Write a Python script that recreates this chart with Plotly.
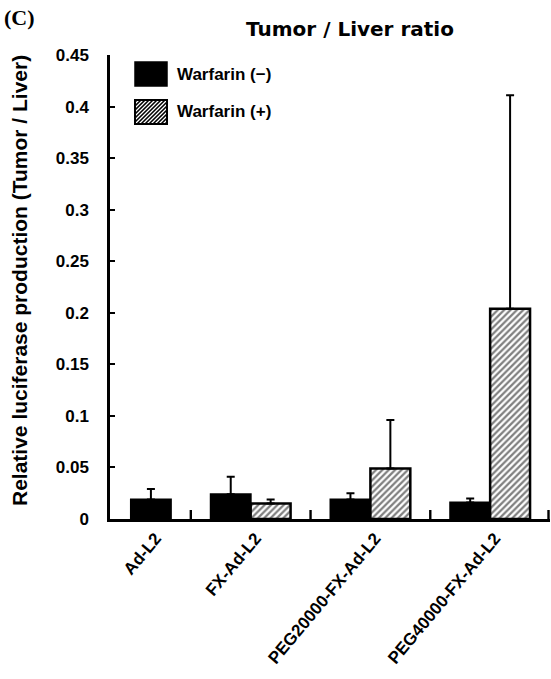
import plotly.graph_objects as go

# ---------------- data ----------------
categories = ["Ad-L2", "FX-Ad-L2", "PEG20000-FX-Ad-L2", "PEG40000-FX-Ad-L2"]
series_names = ["Warfarin (\u2212)", "Warfarin (+)"]
warfarin_minus = [0.019, 0.024, 0.019, 0.016]
warfarin_minus_err = [0.010, 0.017, 0.006, 0.004]
warfarin_plus = [None, 0.015, 0.049, 0.204]
warfarin_plus_err = [None, 0.004, 0.047, 0.207]
y_ticks = [0, 0.05, 0.1, 0.15, 0.2, 0.25, 0.3, 0.35, 0.4, 0.45]

# ---------------- layout geometry (pixels) ----------------
FIG_W, FIG_H = 551, 679
L, R, T, B = 110, 1, 55, 160
PW = FIG_W - L - R
PH = FIG_H - T - B

def pxx(px):
    return (px - L) / PW

def pxy(py):
    return (FIG_H - B - py) / PH

idx = list(range(len(categories)))
bw = 1 / 3
minus_offsets = [0] + [-bw] * (len(categories) - 1)
plus_offsets = [0] * len(categories)
label_pos = [bw / 2 + 0.04] + [i + 0.04 for i in idx[1:]]
boundary_pos = [i + 0.5 for i in idx]
X_RANGE = [-0.175, 3.5]

AX_FONT = dict(family="Liberation Sans, Arial, sans-serif", color="black", weight="bold")

fig = go.Figure()
fig.add_trace(go.Bar(
    x=idx, y=warfarin_minus, name=series_names[0], width=bw, offset=minus_offsets,
    marker=dict(color="black", line=dict(color="black", width=2)),
    error_y=dict(type="data", array=warfarin_minus_err, arrayminus=[0] * 4, symmetric=False,
                 color="black", thickness=2, width=4),
    showlegend=False,
))
fig.add_trace(go.Bar(
    x=idx, y=warfarin_plus, name=series_names[1], width=bw, offset=plus_offsets,
    marker=dict(color="white", line=dict(color="black", width=2.5),
                pattern=dict(shape="/", fgcolor="black", bgcolor="white", size=4.5, solidity=0.5)),
    error_y=dict(type="data", array=warfarin_plus_err, arrayminus=[0] * 4, symmetric=False,
                 color="black", thickness=2, width=4),
    showlegend=False,
))

shapes = []
for bp in boundary_pos:
    xp = L + (bp - X_RANGE[0]) / (X_RANGE[1] - X_RANGE[0]) * PW
    xp = min(xp, FIG_W - R - 1.5)
    shapes.append(dict(type="rect", xref="paper", yref="paper",
                       x0=pxx(xp - 1.2), x1=pxx(xp + 1.2), y0=pxy(FIG_H - B), y1=pxy(FIG_H - B - 9),
                       fillcolor="black", line=dict(width=0), layer="above"))

bx0, bx1 = 135, 167
rows = [(62, 86), (100, 124)]
shapes.append(dict(type="rect", xref="paper", yref="paper",
                   x0=pxx(bx0), x1=pxx(bx1), y0=pxy(rows[0][1]), y1=pxy(rows[0][0]),
                   fillcolor="black", line=dict(color="black", width=1.5)))
hy0, hy1 = rows[1]
shapes.append(dict(type="rect", xref="paper", yref="paper",
                   x0=pxx(bx0), x1=pxx(bx1), y0=pxy(hy1), y1=pxy(hy0),
                   fillcolor="white", line=dict(color="black", width=2)))
path = ""
c = bx0 + hy0 + 2
while c < bx1 + hy1:
    xa = max(bx0, c - hy1)
    xb = min(bx1, c - hy0)
    if xb > xa:
        path += f"M{pxx(xa)},{pxy(c - xa)}L{pxx(xb)},{pxy(c - xb)}"
    c += 4.0
shapes.append(dict(type="path", xref="paper", yref="paper", path=path,
                   line=dict(color="black", width=1.6)))

annotations = []
for name, (ry0, ry1) in zip(series_names, rows):
    annotations.append(dict(text=name, xref="paper", yref="paper", x=pxx(175), y=pxy((ry0 + ry1) / 2),
                            xanchor="left", yanchor="middle", showarrow=False,
                            font=dict(AX_FONT, size=17)))
annotations.append(dict(text="Relative luciferase production (Tumor / Liver)", xref="paper", yref="paper",
                        x=pxx(19), y=pxy(281), xanchor="center", yanchor="middle", textangle=-90,
                        showarrow=False, font=dict(AX_FONT, size=21)))
annotations.append(dict(text="(C)", xref="paper", yref="paper", x=pxx(2), y=pxy(17),
                        xanchor="left", yanchor="middle", showarrow=False,
                        font=dict(family="Liberation Serif, Times New Roman, serif", size=22,
                                  color="black", weight="bold")))

fig.update_layout(
    width=FIG_W, height=FIG_H,
    margin=dict(l=L, r=R, t=T, b=B, pad=0),
    paper_bgcolor="white", plot_bgcolor="white",
    barmode="overlay",
    title=dict(text="Tumor / Liver ratio", x=pxx(350), xref="paper", xanchor="center",
               y=1 - 29 / FIG_H, yref="container", yanchor="middle",
               font=dict(family="DejaVu Sans, sans-serif", size=20, color="black", weight="bold")),
    shapes=shapes, annotations=annotations,
    xaxis=dict(range=X_RANGE, showgrid=False, zeroline=False,
               showline=True, linecolor="black", linewidth=2.5,
               tickmode="array", tickvals=label_pos, ticktext=categories,
               ticks="", ticklabelstandoff=0,
               tickangle=-50, tickfont=dict(AX_FONT, size=17)),
    yaxis=dict(range=[0, 0.45], showgrid=False, zeroline=False,
               showline=True, linecolor="black", linewidth=2.5,
               tickmode="array", tickvals=y_ticks,
               ticks="inside", ticklen=5, tickwidth=1.5, tickcolor="black",
               ticklabelstandoff=15, tickfont=dict(AX_FONT, size=17)),
)

fig.write_html("out.html", config={"displayModeBar": False},
               post_script="document.body.style.margin='0';document.body.style.overflow='hidden';")
